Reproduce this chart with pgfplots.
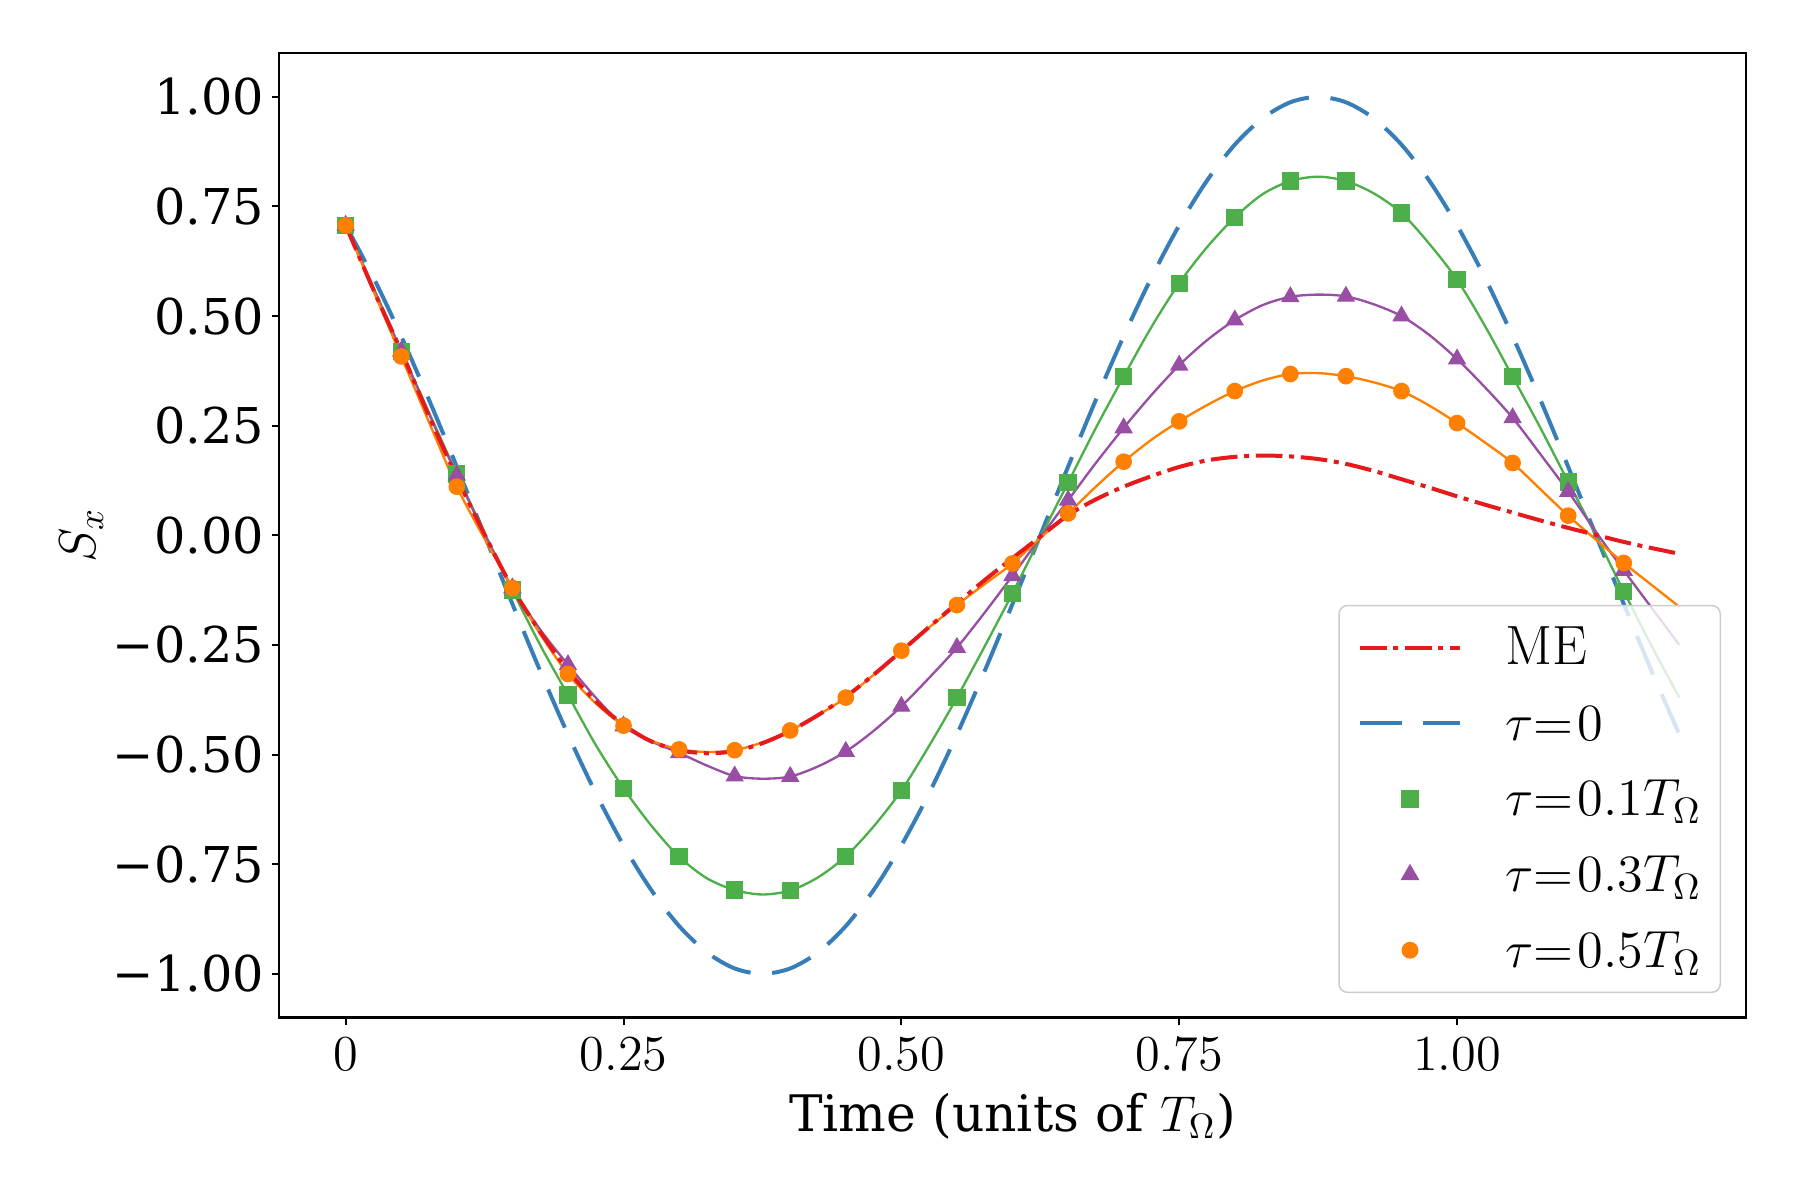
\RequirePackage{fix-cm}
\documentclass[border=0pt]{standalone}
\usepackage{fontspec}
\usepackage{pgfplots}
\usepackage{pgfplotstable}
\pgfplotsset{compat=1.18}
\newfontfamily\dejavuserif{DejaVu Serif}
\definecolor{cME}{HTML}{E41A1C}
\definecolor{cB}{HTML}{377EB8}
\definecolor{cG}{HTML}{4DAF4A}
\definecolor{cP}{HTML}{984EA3}
\definecolor{cO}{HTML}{FF7F00}
\pgfplotsset{
  linelegend/.style={legend image code/.code={\draw[##1] (0pt,0pt) -- (30pt,0pt);}},
  marklegend/.style={legend image code/.code={\path (0pt,0pt) (30pt,0pt); \draw[mark repeat=2,mark phase=2,##1, fill opacity=1] plot coordinates {(0pt,0pt) (15pt,0pt) (30pt,0pt)};}},
}
\newcommand{\eq}{\mkern0.3mu{=}\mkern1.3mu}

% columns: t, tau0, ME, tau01, tau03, tau05
\pgfplotstableread{
t      b        me      g       p       o
0.000  0.7071   0.707   0.707   0.707   0.707
0.025  0.5878   0.560   0.565   0.562   0.557
0.050  0.4540   0.420   0.420   0.420   0.408
0.075  0.3090   0.272   0.280   0.277   0.258
0.100  0.1564   0.132   0.140   0.137   0.111
0.125  0.0000   0.002   0.005   0.003  -0.008
0.150 -0.1564  -0.120  -0.125  -0.120  -0.120
0.175 -0.3090  -0.220  -0.250  -0.215  -0.225
0.200 -0.4540  -0.308  -0.364  -0.295  -0.316
0.225 -0.5878  -0.378  -0.478  -0.370  -0.383
0.250 -0.7071  -0.432  -0.577  -0.435  -0.434
0.275 -0.8090  -0.470  -0.662  -0.470  -0.468
0.300 -0.8910  -0.490  -0.733  -0.496  -0.488
0.325 -0.9511  -0.497  -0.782  -0.525  -0.494
0.350 -0.9877  -0.492  -0.809  -0.549  -0.490
0.375 -1.0000  -0.474  -0.819  -0.555  -0.472
0.400 -0.9877  -0.446  -0.810  -0.550  -0.445
0.425 -0.9511  -0.410  -0.780  -0.527  -0.410
0.450 -0.8910  -0.368  -0.732  -0.493  -0.370
0.475 -0.8090  -0.318  -0.664  -0.446  -0.318
0.500 -0.7071  -0.264  -0.582  -0.390  -0.263
0.525 -0.5878  -0.209  -0.480  -0.325  -0.210
0.550 -0.4540  -0.155  -0.370  -0.256  -0.159
0.575 -0.3090  -0.102  -0.253  -0.176  -0.111
0.600 -0.1564  -0.052  -0.132  -0.092  -0.064
0.625  0.0000  -0.003  -0.005  -0.005  -0.006
0.650  0.1564   0.046   0.120   0.080   0.050
0.675  0.3090   0.082   0.245   0.165   0.111
0.700  0.4540   0.111   0.362   0.245   0.168
0.725  0.5878   0.135   0.475   0.320   0.218
0.750  0.7071   0.156   0.575   0.388   0.260
0.775  0.8090   0.171   0.657   0.445   0.297
0.800  0.8910   0.179   0.725   0.491   0.329
0.825  0.9511   0.182   0.778   0.525   0.353
0.850  0.9877   0.180   0.808   0.544   0.368
0.875  1.0000   0.174   0.818   0.549   0.370
0.900  0.9877   0.163   0.808   0.545   0.363
0.925  0.9511   0.147   0.780   0.527   0.349
0.950  0.8910   0.128   0.735   0.500   0.329
0.975  0.8090   0.109   0.665   0.457   0.296
1.000  0.7071   0.089   0.583   0.402   0.256
1.025  0.5878   0.070   0.478   0.338   0.212
1.050  0.4540   0.052   0.362   0.268   0.165
1.075  0.3090   0.034   0.245   0.185   0.105
1.100  0.1564   0.017   0.122   0.100   0.045
1.125  0.0000   0.001   0.000   0.008  -0.010
1.150 -0.1564  -0.015  -0.128  -0.080  -0.063
1.175 -0.3090  -0.029  -0.252  -0.165  -0.113
1.200 -0.4540  -0.042  -0.370  -0.250  -0.163
}\data

\begin{document}
\begin{tikzpicture}
\path[use as bounding box] (-83.7pt,-54.7pt) rectangle (456.3pt,305.3pt);
\begin{axis}[
  scale only axis, width=440.1pt, height=289.4pt,
  at={(0pt,0pt)}, anchor=south west,
  xmin=-0.06, xmax=1.26, ymin=-1.1, ymax=1.1,
  axis line style={black, line width=0.8pt},
  tick style={black, line width=0.6pt},
  tick align=outside, major tick length=2.2pt, tick pos=left,
  minor tick num=0,
  xtick={0,0.25,0.5,0.75,1},
  xticklabels={$0$,$0.25$,$0.50$,$0.75$,$1.00$},
  ytick={-1,-0.75,-0.5,-0.25,0,0.25,0.5,0.75,1},
  yticklabels={−1.00,−0.75,−0.50,−0.25,0.00,0.25,0.50,0.75,1.00},
  xticklabel style={font=\fontsize{15.1}{18}\selectfont, anchor=base, inner sep=0pt, yshift=-13.6pt},
  yticklabel style={font=\dejavuserif\fontsize{14.8}{17}\selectfont, anchor=east, inner sep=0pt, xshift=-2.1pt},
  every axis x label/.style={at={(axis description cs:0.5,0)}, anchor=base, yshift=-34pt, font=\fontsize{15.1}{18}\selectfont},
  every axis y label/.style={at={(axis description cs:-0.1347,0.5)}, rotate=90, anchor=center, font=\fontsize{15.6}{18}\selectfont},
  xlabel={{\dejavuserif Time (units of }$T_\Omega${\dejavuserif )}},
  ylabel={$S_x$},
  legend cell align=left,
  legend style={at={(axis description cs:1,0)}, anchor=south east,
    xshift=-7.5pt, yshift=7.4pt,
    draw=black!20, line width=0.45pt, rounded corners=2.5pt,
    fill=white, fill opacity=0.8, draw opacity=1, text opacity=1,
    inner xsep=5.7pt, inner ysep=1.25pt,
    font=\fontsize{15.7}{18}\selectfont,
    nodes={inner sep=0pt, text height=16.45pt, text depth=6.25pt},
    /tikz/every odd column/.append style={column sep=12.9pt},
    row sep=0pt},
]
% tau = 0
\addplot[cB, line width=1.2pt, dash pattern=on 12.5pt off 6.5pt, smooth, forget plot] table[x=t, y=b] {\data};
% tau = 0.1
\addplot[cG, line width=0.7pt, smooth, forget plot] table[x=t, y=g] {\data};
\addplot[cG, only marks, mark=square*, mark size=2.4pt, each nth point=2, filter discard warning=false, restrict x to domain=-0.01:1.16, forget plot] table[x=t, y=g] {\data};
% tau = 0.3
\addplot[cP, line width=0.7pt, smooth, forget plot] table[x=t, y=p] {\data};
\addplot[cP, only marks, mark=triangle*, mark size=2.8pt, each nth point=2, filter discard warning=false, restrict x to domain=-0.01:1.16, forget plot] table[x=t, y=p] {\data};
% tau = 0.5
\addplot[cO, line width=0.7pt, smooth, forget plot] table[x=t, y=o] {\data};
\addplot[cO, only marks, mark=*, mark size=2.3pt, each nth point=2, filter discard warning=false, restrict x to domain=-0.01:1.16, forget plot] table[x=t, y=o] {\data};
% ME
\addplot[cME, line width=1.2pt, dash pattern=on 8pt off 2pt on 1.5pt off 2pt, smooth, forget plot] table[x=t, y=me] {\data};

\addlegendimage{cME, line width=1.2pt, dash pattern=on 8pt off 2pt on 1.5pt off 2pt, linelegend}
\addlegendentry{{\fontsize{16.6}{18}\selectfont ME}}
\addlegendimage{cB, line width=1.2pt, dash pattern=on 12.5pt off 6.5pt, linelegend}
\addlegendentry{$\tau\eq0$}
\addlegendimage{cG, only marks, mark=square*, mark size=2.4pt, marklegend}
\addlegendentry{$\tau\eq0.1T_\Omega$}
\addlegendimage{cP, only marks, mark=triangle*, mark size=2.8pt, marklegend}
\addlegendentry{$\tau\eq0.3T_\Omega$}
\addlegendimage{cO, only marks, mark=*, mark size=2.3pt, marklegend}
\addlegendentry{$\tau\eq0.5T_\Omega$}
\end{axis}
\end{tikzpicture}
\end{document}
